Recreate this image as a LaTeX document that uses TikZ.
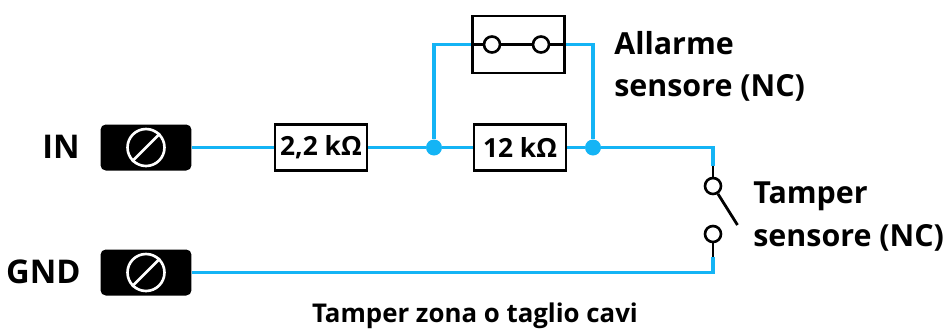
\documentclass[tikz,border=0pt]{standalone}
\usepackage{fontspec}
\setmainfont{Open Sans}
\definecolor{wire}{RGB}{20,180,245}
\tikzset{
  x=.02cm,y=-.02cm,
  wireline/.style={draw=wire,line width=1.9pt},
  blackline/.style={draw=black,line width=1.6pt},
  terminal/.style={fill=black,rounded corners=3pt,minimum width=1.82cm,minimum height=.92cm,inner sep=0pt},
  screwhead/.style={circle,draw=white,line width=1.5pt,minimum size=.74cm,inner sep=0pt},
  resistor/.style={draw=black,fill=white,line width=1.5pt,minimum width=1.84cm,minimum height=.92cm,inner sep=0pt,font=\bfseries\fontsize{15}{17}\selectfont},
  contact/.style={circle,draw=black,fill=white,line width=1.5pt,minimum size=.32cm,inner sep=0pt},
  junction/.style={circle,fill=wire,minimum size=.32cm,inner sep=0pt},
  tag/.style={font=\bfseries\fontsize{17.3}{19}\selectfont,inner sep=0pt},
}
\begin{document}
\begin{tikzpicture}
\useasboundingbox (0,0) rectangle (948,329);

\node[resistor] (rtwo) at (321,147.5) {2,2 kΩ};
\node[resistor] (rtwelve) at (520,147.5) {12 kΩ};
\node[draw=black,line width=1.5pt,minimum width=1.84cm,minimum height=1.14cm,inner sep=0pt] (alarmbox) at (518.5,44.5) {};
\node[contact] (alarma) at (492,44.5) {};
\node[contact] (alarmb) at (541,44.5) {};
\node[junction] (jleft) at (434,147.5) {};
\node[junction] (jright) at (593,147.5) {};
\node[contact] (tampa) at (713,186) {};
\node[contact] (tampb) at (713,234) {};
\node[terminal] (termin) at (146,147.5) {};
\node[terminal] (termgnd) at (146,272.5) {};
\node[screwhead] (screwin) at (146,147.5) {};
\node[screwhead] (screwgnd) at (146,272.5) {};

\coordinate (alarmin) at (434,44.5);
\coordinate (alarmout) at (593,44.5);
\coordinate (tamptop) at (713,147.5);
\coordinate (tampstuba) at (713,166);
\coordinate (tampbot) at (713,272.5);
\coordinate (tampstubb) at (713,257);
\coordinate (lever) at (737.5,225);

\draw[white,line width=1.5pt] (screwin.south west) -- (screwin.north east);
\draw[white,line width=1.5pt] (screwgnd.south west) -- (screwgnd.north east);

\draw[wireline] (termin.east) -- (rtwo.west);
\draw[wireline] (rtwo.east) -- (jleft);
\draw[wireline] (jleft) -- (rtwelve.west);
\draw[wireline] (rtwelve.east) -- (jright);
\draw[wireline] (jleft) -- (alarmin) -- (alarmbox.west |- alarmin);
\draw[wireline] (alarmbox.east |- alarmout) -- (alarmout) -- (jright);
\draw[wireline] (jright) -- (tamptop) -- (tampstuba);
\draw[wireline] (termgnd.east) -- (tampbot) -- (tampstubb);

\draw[blackline] (alarmbox.west |- alarma) -- (alarma);
\draw[blackline] (alarma) -- (alarmb);
\draw[blackline] (alarmb) -- (alarmbox.east |- alarmb);
\draw[blackline] (tampstuba) -- (tampa);
\draw[blackline] (tampstubb) -- (tampb);
\draw[blackline] (tampa) -- (lever);

\node[tag,anchor=east,font=\bfseries\fontsize{18.6}{20}\selectfont] (inlabel) at (80,147) {IN};
\node[tag,anchor=east,font=\bfseries\fontsize{18.6}{20}\selectfont] (gndlabel) at (81,272) {GND};
\node[tag,anchor=west] (alarmlabela) at (614,43) {Allarme};
\node[tag,anchor=west] (alarmlabelb) at (614,88) {sensore (NC)};
\node[tag,anchor=west] (tamplabela) at (753,196) {Tamper};
\node[tag,anchor=west] (tamplabelb) at (753,238) {sensore (NC)};
\node[tag,font=\bfseries\fontsize{14.7}{16}\selectfont] (caption) at (475,316) {Tamper zona o taglio cavi};

\end{tikzpicture}
\end{document}
